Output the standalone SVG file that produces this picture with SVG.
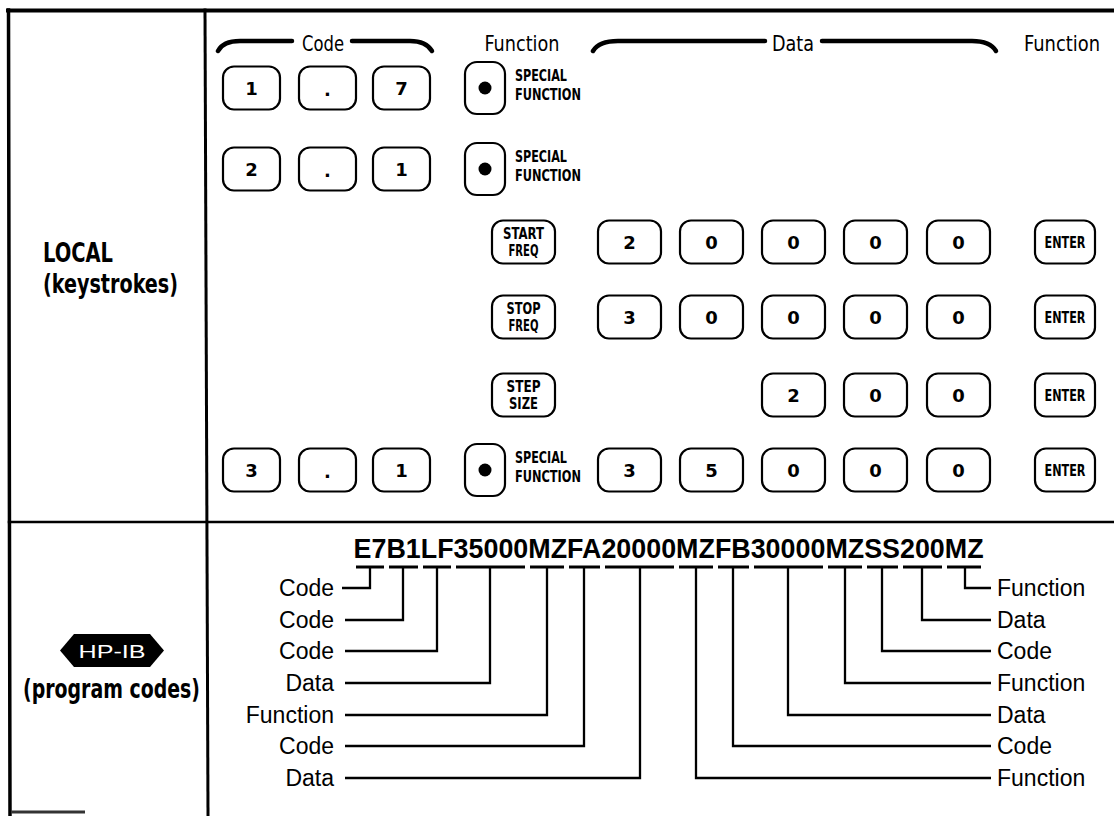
<svg xmlns="http://www.w3.org/2000/svg" width="1114" height="816" viewBox="0 0 1114 816">
<style>
.bg{fill:#fff}
.frame{stroke:#000;fill:none;stroke-linecap:square}
.key{fill:#fff;stroke:#000;stroke-width:2.2}
.dig{font-family:"DejaVu Sans","Liberation Sans",sans-serif;font-weight:bold;font-size:18px;text-anchor:middle;fill:#000}
.cond{font-family:"Liberation Sans Narrow","DejaVu Sans Condensed","Liberation Sans",sans-serif;font-weight:bold;fill:#000}
.kt{font-size:15.5px;text-anchor:middle}
.sf{font-size:15px}
.big{font-size:26px}
.hdr{font-family:"Liberation Sans Narrow","DejaVu Sans Condensed","Liberation Sans",sans-serif;font-size:22px;text-anchor:middle;fill:#000}
.brace{stroke:#000;stroke-width:4.5;fill:none;stroke-linecap:round}
.lbl{font-family:"Liberation Sans",Arial,sans-serif;font-size:23px;fill:#000}
.code{font-family:"Liberation Sans",Arial,sans-serif;font-size:26.8px;font-weight:bold;fill:#000}
.ln{stroke:#000;stroke-width:2.3;fill:none}
.ul{stroke:#000;stroke-width:3;fill:none}
</style>
<rect class="bg" x="0" y="0" width="1114" height="816"/>

<g id="frame">
<line class="frame" x1="8" y1="10.5" x2="1114" y2="10.5" stroke-width="4"/>
<line class="frame" x1="8.5" y1="10" x2="10" y2="816" stroke-width="3.5"/>
<line class="frame" x1="205" y1="10" x2="208" y2="816" stroke-width="3"/>
<line class="frame" x1="9" y1="522" x2="1114" y2="522" stroke-width="2.5"/>
<line x1="11" y1="812" x2="85" y2="812" stroke="#333" stroke-width="3"/>
</g>

<g id="label-local">
<text class="cond big" x="43" y="262" textLength="70" lengthAdjust="spacingAndGlyphs">LOCAL</text>
<text class="cond big" x="43" y="293" textLength="135" lengthAdjust="spacingAndGlyphs">(keystrokes)</text>
</g>

<g id="label-hpib">
<polygon points="60,650.5 74,634 150,634 164,650.5 150,667 74,667" fill="#000"/>
<text x="112" y="658" text-anchor="middle" font-family="Liberation Sans, Arial, sans-serif" font-size="18" fill="#fff" textLength="67" lengthAdjust="spacingAndGlyphs">HP-IB</text>
<text class="cond big" x="23" y="698" textLength="177" lengthAdjust="spacingAndGlyphs">(program codes)</text>
</g>

<g id="header">
<path class="brace" d="M218,51 Q223,41 240,41 L292,41"/>
<text class="hdr" x="323" y="51" textLength="42" lengthAdjust="spacingAndGlyphs">Code</text>
<path class="brace" d="M352,41 L410,41 Q426,41 432,51"/>
<text class="hdr" x="522" y="51" textLength="75" lengthAdjust="spacingAndGlyphs">Function</text>
<path class="brace" d="M593,51 Q599,41 618,41 L765,41"/>
<text class="hdr" x="793" y="51" textLength="42" lengthAdjust="spacingAndGlyphs">Data</text>
<path class="brace" d="M822,41 L972,41 Q990,41 996,51"/>
<text class="hdr" x="1062" y="51" textLength="76" lengthAdjust="spacingAndGlyphs">Function</text>
</g>

<!-- Row 1 -->
<g id="row1">
<g id="r1-k1"><rect class="key" x="223" y="66.5" width="57" height="43" rx="11"/><text class="dig" x="251.5" y="94.5">1</text></g>
<g id="r1-k2"><rect class="key" x="299" y="66.5" width="57" height="43" rx="11"/><text class="dig" x="327.5" y="96">.</text></g>
<g id="r1-k3"><rect class="key" x="373" y="66.5" width="57" height="43" rx="11"/><text class="dig" x="401.5" y="94.5">7</text></g>
<g id="r1-sf"><rect class="key" x="465" y="62" width="40" height="52" rx="12"/><circle cx="485" cy="88" r="6.5"/>
<text class="cond sf" x="515" y="81" textLength="52" lengthAdjust="spacingAndGlyphs">SPECIAL</text>
<text class="cond sf" x="515" y="100" textLength="66" lengthAdjust="spacingAndGlyphs">FUNCTION</text></g>
</g>

<!-- Row 2 -->
<g id="row2">
<g id="r2-k1"><rect class="key" x="223" y="147.5" width="57" height="43" rx="11"/><text class="dig" x="251.5" y="175.5">2</text></g>
<g id="r2-k2"><rect class="key" x="299" y="147.5" width="57" height="43" rx="11"/><text class="dig" x="327.5" y="177">.</text></g>
<g id="r2-k3"><rect class="key" x="373" y="147.5" width="57" height="43" rx="11"/><text class="dig" x="401.5" y="175.5">1</text></g>
<g id="r2-sf"><rect class="key" x="465" y="143" width="40" height="52" rx="12"/><circle cx="485" cy="169" r="6.5"/>
<text class="cond sf" x="515" y="162" textLength="52" lengthAdjust="spacingAndGlyphs">SPECIAL</text>
<text class="cond sf" x="515" y="181" textLength="66" lengthAdjust="spacingAndGlyphs">FUNCTION</text></g>
</g>

<!-- Row 3 -->
<g id="row3">
<g id="r3-start"><rect class="key" x="492" y="220.5" width="63" height="43" rx="11"/>
<text class="cond kt" x="523.5" y="238.5" textLength="41" lengthAdjust="spacingAndGlyphs">START</text>
<text class="cond kt" x="523.5" y="255.5" textLength="30" lengthAdjust="spacingAndGlyphs">FREQ</text></g>
<g id="r3-k1"><rect class="key" x="598" y="220.5" width="63" height="43" rx="11"/><text class="dig" x="629.5" y="248.5">2</text></g>
<g id="r3-k2"><rect class="key" x="680" y="220.5" width="63" height="43" rx="11"/><text class="dig" x="711.5" y="248.5">0</text></g>
<g id="r3-k3"><rect class="key" x="762" y="220.5" width="63" height="43" rx="11"/><text class="dig" x="793.5" y="248.5">0</text></g>
<g id="r3-k4"><rect class="key" x="844" y="220.5" width="63" height="43" rx="11"/><text class="dig" x="875.5" y="248.5">0</text></g>
<g id="r3-k5"><rect class="key" x="927" y="220.5" width="63" height="43" rx="11"/><text class="dig" x="958.5" y="248.5">0</text></g>
<g id="r3-enter"><rect class="key" x="1035" y="220.5" width="60" height="43" rx="11"/><text class="cond kt" x="1065" y="248" textLength="41" lengthAdjust="spacingAndGlyphs">ENTER</text></g>
</g>

<!-- Row 4 -->
<g id="row4">
<g id="r4-stop"><rect class="key" x="492" y="295.5" width="63" height="43" rx="11"/>
<text class="cond kt" x="523.5" y="313.5" textLength="34" lengthAdjust="spacingAndGlyphs">STOP</text>
<text class="cond kt" x="523.5" y="330.5" textLength="30" lengthAdjust="spacingAndGlyphs">FREQ</text></g>
<g id="r4-k1"><rect class="key" x="598" y="295.5" width="63" height="43" rx="11"/><text class="dig" x="629.5" y="323.5">3</text></g>
<g id="r4-k2"><rect class="key" x="680" y="295.5" width="63" height="43" rx="11"/><text class="dig" x="711.5" y="323.5">0</text></g>
<g id="r4-k3"><rect class="key" x="762" y="295.5" width="63" height="43" rx="11"/><text class="dig" x="793.5" y="323.5">0</text></g>
<g id="r4-k4"><rect class="key" x="844" y="295.5" width="63" height="43" rx="11"/><text class="dig" x="875.5" y="323.5">0</text></g>
<g id="r4-k5"><rect class="key" x="927" y="295.5" width="63" height="43" rx="11"/><text class="dig" x="958.5" y="323.5">0</text></g>
<g id="r4-enter"><rect class="key" x="1035" y="295.5" width="60" height="43" rx="11"/><text class="cond kt" x="1065" y="323" textLength="41" lengthAdjust="spacingAndGlyphs">ENTER</text></g>
</g>

<!-- Row 5 -->
<g id="row5">
<g id="r5-step"><rect class="key" x="492" y="373.5" width="63" height="43" rx="11"/>
<text class="cond kt" x="523.5" y="391.5" textLength="34" lengthAdjust="spacingAndGlyphs">STEP</text>
<text class="cond kt" x="523.5" y="408.5" textLength="29" lengthAdjust="spacingAndGlyphs">SIZE</text></g>
<g id="r5-k1"><rect class="key" x="762" y="373.5" width="63" height="43" rx="11"/><text class="dig" x="793.5" y="401.5">2</text></g>
<g id="r5-k2"><rect class="key" x="844" y="373.5" width="63" height="43" rx="11"/><text class="dig" x="875.5" y="401.5">0</text></g>
<g id="r5-k3"><rect class="key" x="927" y="373.5" width="63" height="43" rx="11"/><text class="dig" x="958.5" y="401.5">0</text></g>
<g id="r5-enter"><rect class="key" x="1035" y="373.5" width="60" height="43" rx="11"/><text class="cond kt" x="1065" y="401" textLength="41" lengthAdjust="spacingAndGlyphs">ENTER</text></g>
</g>

<!-- Row 6 -->
<g id="row6">
<g id="r6-c1"><rect class="key" x="223" y="448.5" width="57" height="43" rx="11"/><text class="dig" x="251.5" y="476.5">3</text></g>
<g id="r6-c2"><rect class="key" x="299" y="448.5" width="57" height="43" rx="11"/><text class="dig" x="327.5" y="478">.</text></g>
<g id="r6-c3"><rect class="key" x="373" y="448.5" width="57" height="43" rx="11"/><text class="dig" x="401.5" y="476.5">1</text></g>
<g id="r6-sf"><rect class="key" x="465" y="444" width="40" height="52" rx="12"/><circle cx="485" cy="470" r="6.5"/>
<text class="cond sf" x="515" y="463" textLength="52" lengthAdjust="spacingAndGlyphs">SPECIAL</text>
<text class="cond sf" x="515" y="482" textLength="66" lengthAdjust="spacingAndGlyphs">FUNCTION</text></g>
<g id="r6-k1"><rect class="key" x="598" y="448.5" width="63" height="43" rx="11"/><text class="dig" x="629.5" y="476.5">3</text></g>
<g id="r6-k2"><rect class="key" x="680" y="448.5" width="63" height="43" rx="11"/><text class="dig" x="711.5" y="476.5">5</text></g>
<g id="r6-k3"><rect class="key" x="762" y="448.5" width="63" height="43" rx="11"/><text class="dig" x="793.5" y="476.5">0</text></g>
<g id="r6-k4"><rect class="key" x="844" y="448.5" width="63" height="43" rx="11"/><text class="dig" x="875.5" y="476.5">0</text></g>
<g id="r6-k5"><rect class="key" x="927" y="448.5" width="63" height="43" rx="11"/><text class="dig" x="958.5" y="476.5">0</text></g>
<g id="r6-enter"><rect class="key" x="1035" y="448.5" width="60" height="43" rx="11"/><text class="cond kt" x="1065" y="476" textLength="41" lengthAdjust="spacingAndGlyphs">ENTER</text></g>
</g>

<g id="program-code">
<text class="code" x="353.6" y="558" textLength="630" lengthAdjust="spacingAndGlyphs">E7B1LF35000MZFA20000MZFB30000MZSS200MZ</text>
</g>

<g id="underlines">
<line class="ul" x1="356" y1="567" x2="384" y2="567"/>
<line class="ul" x1="389" y1="567" x2="418" y2="567"/>
<line class="ul" x1="423" y1="567" x2="451" y2="567"/>
<line class="ul" x1="456" y1="567" x2="525" y2="567"/>
<line class="ul" x1="530" y1="567" x2="564" y2="567"/>
<line class="ul" x1="569" y1="567" x2="600" y2="567"/>
<line class="ul" x1="605" y1="567" x2="674" y2="567"/>
<line class="ul" x1="679" y1="567" x2="713" y2="567"/>
<line class="ul" x1="718" y1="567" x2="749" y2="567"/>
<line class="ul" x1="754" y1="567" x2="823" y2="567"/>
<line class="ul" x1="828" y1="567" x2="862" y2="567"/>
<line class="ul" x1="867" y1="567" x2="898" y2="567"/>
<line class="ul" x1="903" y1="567" x2="942" y2="567"/>
<line class="ul" x1="947" y1="567" x2="981" y2="567"/>
</g>

<g id="connectors">
<polyline class="ln" points="342,588 370,588 370,567"/>
<polyline class="ln" points="345,620 403,620 403,567"/>
<polyline class="ln" points="345,651 437,651 437,567"/>
<polyline class="ln" points="345,683 490,683 490,567"/>
<polyline class="ln" points="345,715 547,715 547,567"/>
<polyline class="ln" points="345,746 584,746 584,567"/>
<polyline class="ln" points="345,778 640,778 640,567"/>
<polyline class="ln" points="965,567 965,588 991,588"/>
<polyline class="ln" points="922,567 922,620 991,620"/>
<polyline class="ln" points="882,567 882,651 991,651"/>
<polyline class="ln" points="845,567 845,683 991,683"/>
<polyline class="ln" points="788,567 788,715 991,715"/>
<polyline class="ln" points="733,567 733,746 991,746"/>
<polyline class="ln" points="696,567 696,778 991,778"/>
</g>

<g id="labels-left" class="lbl" text-anchor="end">
<text x="334" y="596">Code</text>
<text x="334" y="628">Code</text>
<text x="334" y="659">Code</text>
<text x="334" y="691">Data</text>
<text x="334" y="723">Function</text>
<text x="334" y="754">Code</text>
<text x="334" y="786">Data</text>
</g>

<g id="labels-right" class="lbl">
<text x="997" y="596">Function</text>
<text x="997" y="628">Data</text>
<text x="997" y="659">Code</text>
<text x="997" y="691">Function</text>
<text x="997" y="723">Data</text>
<text x="997" y="754">Code</text>
<text x="997" y="786">Function</text>
</g>
</svg>
